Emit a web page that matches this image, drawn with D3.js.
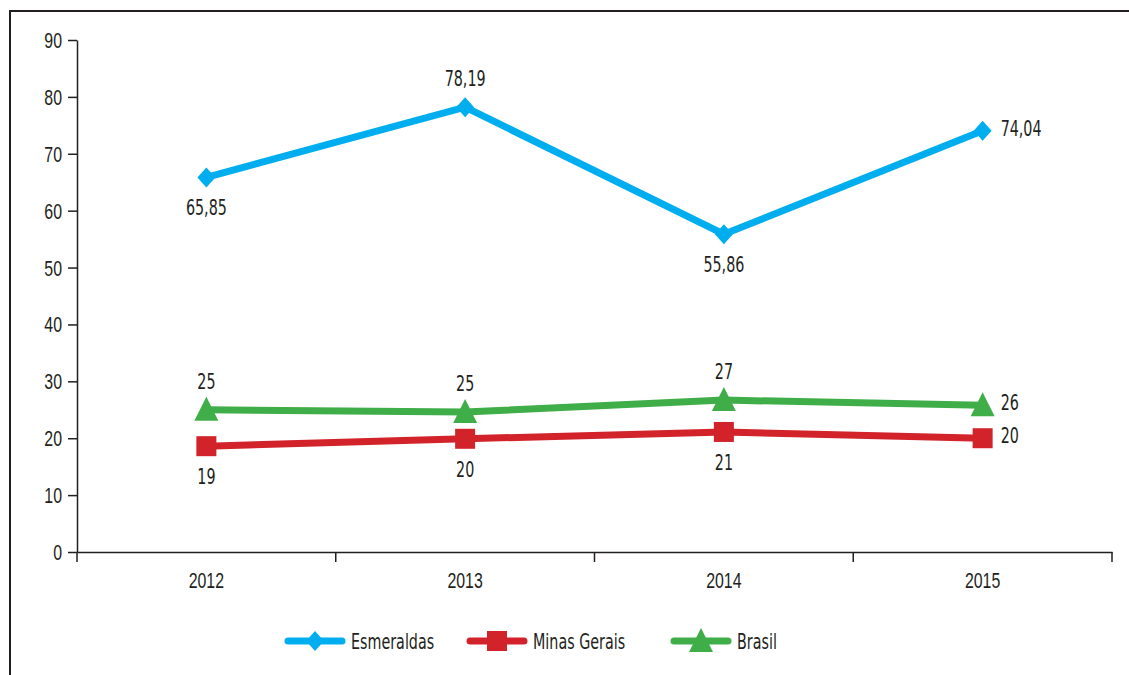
<!DOCTYPE html>
<html>
<head>
<meta charset="utf-8">
<script src="https://cdn.jsdelivr.net/npm/d3@7"></script>
<style>
  body { margin: 0; background: #fff; }
  svg { display: block; font-family: "DejaVu Sans Condensed", "DejaVu Sans", sans-serif; font-stretch: condensed; }
</style>
</head>
<body>
<svg id="chart" width="1129" height="675"></svg>
<script>
// data
const years = ['2012', '2013', '2014', '2015'];
const esmeraldas = [65.85, 78.19, 55.86, 74.04];
const minasGerais = [18.6, 19.9, 21.1, 20.0];
const brasil = [25.0, 24.6, 26.7, 25.8];
const yTicks = [0, 10, 20, 30, 40, 50, 60, 70, 80, 90];

const series = [
  { name: 'Esmeraldas', values: esmeraldas, color: '#00aeef', symbol: 'diamond', fmt: d3.format('.2f'),
    pos: ['below', 'above', 'below', 'right'] },
  { name: 'Minas Gerais', values: minasGerais, color: '#d2232a', symbol: 'square', fmt: d => String(Math.round(d)),
    pos: ['below', 'below', 'below', 'right'] },
  { name: 'Brasil', values: brasil, color: '#3fae49', symbol: 'triangle', fmt: d => String(Math.round(d)),
    pos: ['above', 'above', 'above', 'right'] },
];

const svg = d3.select('#chart');
const margin = { left: 77, top: 40, right: 1112, bottom: 552 };
const fontSize = 21.5;
const squeeze = 0.74; // the original font is a narrow one

const x = d3.scaleBand().domain(years).range([margin.left, margin.right]);
const y = d3.scaleLinear().domain([0, 90]).range([margin.bottom, margin.top]);

// puts a narrowed text at (tx, ty)
const narrowText = (sel, tx, ty) => sel
  .attr('x', 0).attr('y', 0)
  .attr('transform', function (d, i) {
    const px = typeof tx === 'function' ? tx(d, i) : tx;
    const py = typeof ty === 'function' ? ty(d, i) : ty;
    return `translate(${px},${py}) scale(${squeeze},1)`;
  });

// frame
svg.append('path')
  .attr('d', 'M10,675 L10,11 L1129,11')
  .attr('fill', 'none')
  .attr('stroke', '#231f20')
  .attr('stroke-width', 2);

// y axis
const yAxis = svg.append('g')
  .attr('transform', `translate(${margin.left},0)`)
  .call(d3.axisLeft(y).tickValues(yTicks).tickSize(9).tickPadding(6).tickSizeOuter(0));
yAxis.select('.domain').attr('stroke', '#231f20').attr('stroke-width', 1.5);
yAxis.selectAll('.tick line').attr('stroke', '#231f20').attr('stroke-width', 1.5);
yAxis.selectAll('.tick text')
  .attr('font-size', fontSize).attr('fill', '#231f20').attr('font-family', null)
  .attr('dy', null)
  .call(narrowText, -15, 7.5);

// x axis
const xAxis = svg.append('g')
  .attr('transform', `translate(0,${margin.bottom})`)
  .call(d3.axisBottom(x).tickSize(0).tickPadding(18));
xAxis.select('.domain').attr('stroke', '#231f20').attr('stroke-width', 1.5);
xAxis.selectAll('.tick text')
  .attr('font-size', fontSize).attr('fill', '#231f20').attr('font-family', null)
  .attr('dy', null)
  .call(narrowText, 0, 36);
// category separators
const edges = years.map(d => x(d)).concat([x.range()[1]]);
svg.append('g').selectAll('line')
  .data(edges)
  .join('line')
  .attr('x1', d => d).attr('x2', d => d)
  .attr('y1', margin.bottom).attr('y2', margin.bottom + 10)
  .attr('stroke', '#231f20').attr('stroke-width', 1.5);

const cx = d => x(d) + x.bandwidth() / 2;

const symbolPath = type => {
  if (type === 'diamond') return 'M0,-10 L9,0 L0,10 L-9,0 Z';
  if (type === 'square') return 'M-10,-10 H10 V10 H-10 Z';
  return 'M0,-13 L12,11 L-12,11 Z';
};

const line = d3.line().x(d => d.x).y(d => d.y);

series.forEach(s => {
  const pts = s.values.map((v, i) => ({ x: cx(years[i]), y: y(v), v, pos: s.pos[i] }));
  svg.append('path')
    .attr('d', line(pts))
    .attr('fill', 'none')
    .attr('stroke', s.color)
    .attr('stroke-width', 7)
    .attr('stroke-linejoin', 'miter');

  svg.append('g').selectAll('path')
    .data(pts)
    .join('path')
    .attr('transform', d => `translate(${d.x},${d.y})`)
    .attr('d', symbolPath(s.symbol))
    .attr('fill', s.color);

  svg.append('g').selectAll('text')
    .data(pts)
    .join('text')
    .attr('text-anchor', d => d.pos === 'right' ? 'start' : 'middle')
    .attr('font-size', fontSize)
    .attr('fill', '#231f20')
    .text(d => s.fmt(d.v).replace('.', ','))
    .call(narrowText,
      d => d.pos === 'right' ? d.x + 18 : d.x,
      d => d.pos === 'above' ? d.y - 21 : d.pos === 'below' ? d.y + 38 : d.y + 5);
});

// legend
const legendX = [315, 497, 701];
const legendY = 641;
const legend = svg.append('g').selectAll('g')
  .data(series)
  .join('g')
  .attr('transform', (d, i) => `translate(${legendX[i]},${legendY})`);
legend.append('line')
  .attr('x1', -27).attr('x2', 27)
  .attr('stroke', d => d.color)
  .attr('stroke-width', 7)
  .attr('stroke-linecap', 'round');
legend.append('path')
  .attr('d', d => symbolPath(d.symbol))
  .attr('fill', d => d.color);
legend.append('text')
  .attr('font-size', fontSize)
  .attr('fill', '#231f20')
  .text(d => d.name)
  .call(narrowText, 36, 8);
</script>
</body>
</html>
